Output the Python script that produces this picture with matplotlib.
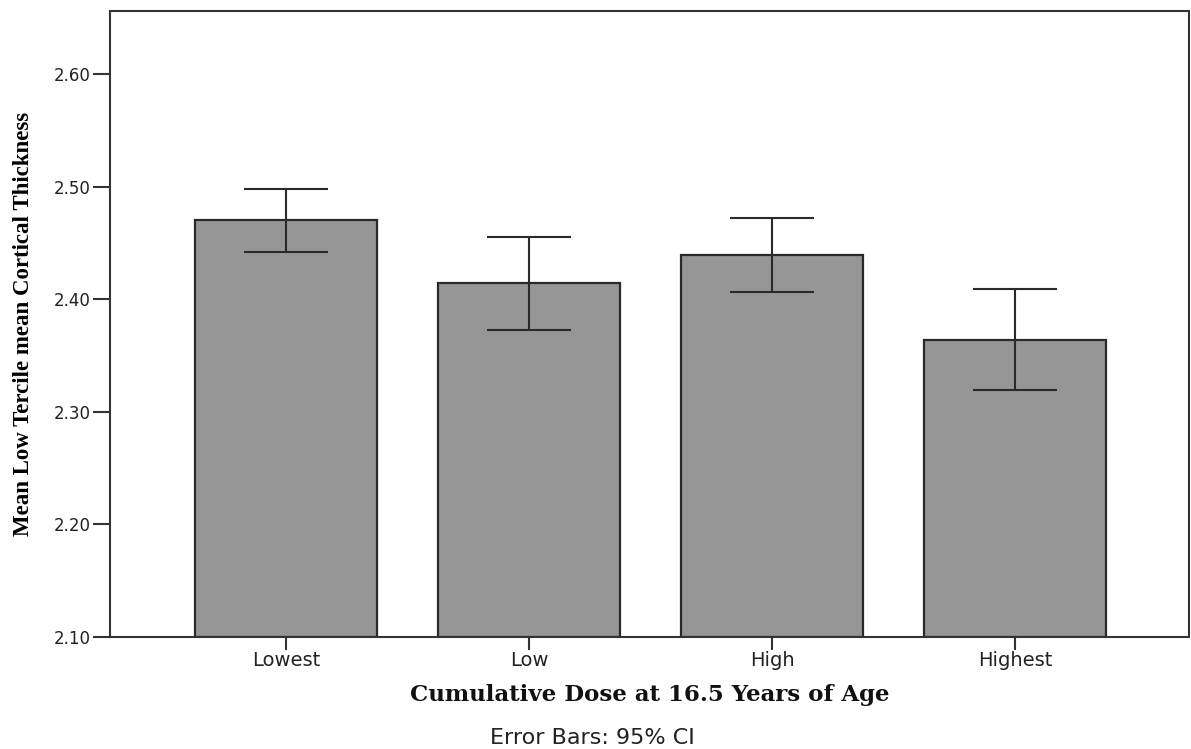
import matplotlib
matplotlib.use("Agg")
import matplotlib.pyplot as plt
import numpy as np

categories = ["Lowest", "Low", "High", "Highest"]
means = [2.470, 2.414, 2.439, 2.364]
ci_low = [2.442, 2.373, 2.406, 2.319]
ci_high = [2.498, 2.455, 2.472, 2.409]
yticks = [2.10, 2.20, 2.30, 2.40, 2.50, 2.60]

fig = plt.figure(figsize=(11.91, 7.49), dpi=100)
ax = fig.add_axes([110/1191, 1-637/749, (1189-110)/1191, (637-11)/749])

x = np.arange(len(categories))
m = np.array(means)
yerr = np.vstack([m - np.array(ci_low), np.array(ci_high) - m])
ax.bar(x, m - 2.10, bottom=2.10, width=0.75, color="#969696", edgecolor="#2a2a2a", linewidth=1.6, zorder=2)
ax.errorbar(x, m, yerr=yerr, fmt="none", ecolor="#2a2a2a", elinewidth=1.5, capsize=30, capthick=1.5, zorder=3)

ax.set_xlim(-0.724, 3.716)
ax.set_ylim(2.10, 2.656)
ax.set_yticks(yticks)
ax.set_yticklabels([f"{v:.2f}" for v in yticks])
ax.set_xticks(x)
ax.set_xticklabels(categories)

for s in ax.spines.values():
    s.set_color("#333333")
    s.set_linewidth(1.5)

ax.tick_params(axis="y", direction="out", length=12, width=1.5, color="#333333", pad=2,
               labelsize=12, labelcolor="#222222")
ax.tick_params(axis="x", direction="out", length=9, width=1.5, color="#333333", pad=1,
               labelsize=14, labelcolor="#222222")
for lab in ax.get_xticklabels() + ax.get_yticklabels():
    lab.set_family("DejaVu Sans")

ax.set_ylabel("Mean Low Tercile mean Cortical Thickness", family="Liberation Serif",
              fontweight="bold", fontsize=16.5)
ax.yaxis.set_label_coords(-76/1079, 0.5)
fig.text(650/1191, 1-695/749, "Cumulative Dose at 16.5 Years of Age", family="DejaVu Serif",
         fontweight="bold", fontsize=16.5, ha="center", va="center", color="#111111")
fig.text(592/1191, 1-738/749, "Error Bars: 95% CI", family="DejaVu Sans",
         fontsize=16, ha="center", va="center", color="#222222")

fig.savefig("out.png", dpi=100)
